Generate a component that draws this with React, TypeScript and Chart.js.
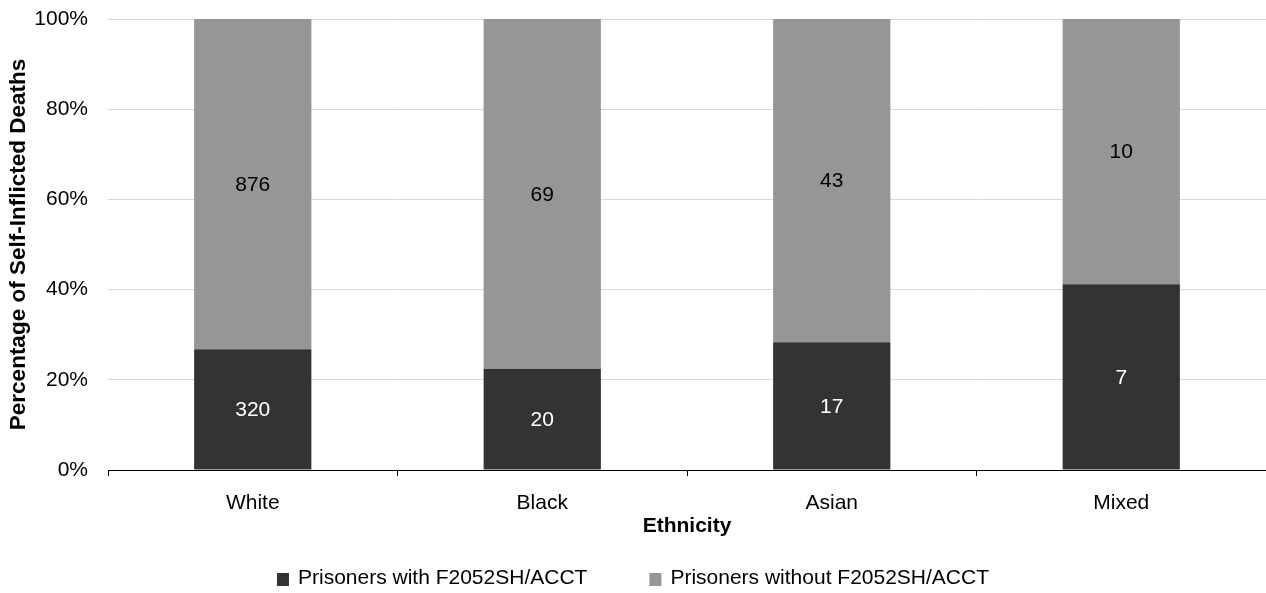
import React, { useEffect, useRef } from "react";
import { Chart, registerables } from "chart.js";

Chart.register(...registerables);

const categories = ["White", "Black", "Asian", "Mixed"];
const withCounts = [320, 20, 17, 7];
const withoutCounts = [876, 69, 43, 10];
const seriesLabels = ["Prisoners with F2052SH/ACCT", "Prisoners without F2052SH/ACCT"];
const seriesColors = ["#333333", "#969696"];
const valueLabelColors = ["#ffffff", "#000000"];
const yTickStep = 20;
const yTitle = "Percentage of Self-Inflicted Deaths";
const xTitle = "Ethnicity";

const FONT = '"Liberation Sans", Arial, Helvetica, sans-serif';
const FS = 21;

const totals = categories.map((_, i) => withCounts[i] + withoutCounts[i]);
const toPct = (arr: number[]) => arr.map((v, i) => (v / totals[i]) * 100);

const valueLabelPlugin = {
  id: "valueLabels",
  afterDatasetsDraw(chart: any) {
    const ctx = chart.ctx;
    ctx.save();
    ctx.font = `${FS}px ${FONT}`;
    ctx.textAlign = "center";
    ctx.textBaseline = "middle";
    chart.data.datasets.forEach((ds: any, di: number) => {
      const meta = chart.getDatasetMeta(di);
      if (meta.hidden) return;
      meta.data.forEach((el: any, i: number) => {
        const p = el.getProps(["x", "y", "base"], true);
        ctx.fillStyle = ds.valueLabelColor;
        ctx.fillText(String(ds.counts[i]), p.x, (p.y + p.base) / 2 + 1);
      });
    });
    ctx.restore();
  },
};

const legendPlugin = {
  id: "customLegend",
  afterDraw(chart: any) {
    const ctx = chart.ctx;
    ctx.save();
    ctx.font = `${FS}px ${FONT}`;
    const boxW = 12;
    const boxH = 13;
    const gap = 9;
    const itemGap = 62;
    const items = chart.data.datasets.map((ds: any) => ({
      text: ds.label,
      color: ds.backgroundColor,
      w: boxW + gap + ctx.measureText(ds.label).width,
    }));
    const total = items.reduce((s: number, it: any) => s + it.w, 0) + itemGap * (items.length - 1);
    let x = (chart.width - total) / 2;
    const baseline = 584;
    items.forEach((it: any) => {
      ctx.fillStyle = it.color;
      ctx.fillRect(x, 573, boxW, boxH);
      ctx.fillStyle = "#000000";
      ctx.textAlign = "left";
      ctx.textBaseline = "alphabetic";
      ctx.fillText(it.text, x + boxW + gap, baseline);
      x += it.w + itemGap;
    });
    ctx.restore();
  },
};

export default function App() {
  const canvasRef = useRef<HTMLCanvasElement | null>(null);

  useEffect(() => {
    if (!canvasRef.current) return;
    const chart = new Chart(canvasRef.current, {
      type: "bar",
      data: {
        labels: categories,
        datasets: [
          {
            label: seriesLabels[0],
            data: toPct(withCounts),
            counts: withCounts,
            valueLabelColor: valueLabelColors[0],
            backgroundColor: seriesColors[0],
            borderWidth: 0,
            barPercentage: 0.405,
            categoryPercentage: 1,
          } as any,
          {
            label: seriesLabels[1],
            data: toPct(withoutCounts),
            counts: withoutCounts,
            valueLabelColor: valueLabelColors[1],
            backgroundColor: seriesColors[1],
            borderWidth: 0,
            barPercentage: 0.405,
            categoryPercentage: 1,
          } as any,
        ],
      },
      options: {
        animation: false,
        responsive: true,
        maintainAspectRatio: false,
        layout: { autoPadding: false, padding: { top: 19, right: 0, bottom: 50, left: 0 } },
        plugins: {
          legend: { display: false },
          tooltip: { enabled: false },
        },
        scales: {
          x: {
            stacked: true,
            afterFit: (s: any) => {
              s.height = 73;
              s.paddingLeft = 0;
              s.paddingRight = 0;
            },
            grid: {
              offset: true,
              drawOnChartArea: false,
              drawTicks: true,
              tickLength: 6,
              color: "#000000",
            },
            border: { display: true, color: "#000000", width: 1 },
            ticks: {
              color: "#000000",
              font: { size: FS, family: FONT },
              padding: 15,
            },
            title: {
              display: true,
              text: xTitle,
              color: "#000000",
              font: { size: FS, family: FONT, weight: "bold" },
              padding: { top: 0, bottom: 4 },
            },
          },
          y: {
            stacked: true,
            min: 0,
            max: 100,
            afterFit: (s: any) => {
              s.width = 108;
              s.paddingTop = 0;
              s.paddingBottom = 0;
            },
            grid: { color: "#d9d9d9", drawTicks: false, lineWidth: 1 },
            border: { display: false },
            ticks: {
              stepSize: yTickStep,
              color: "#000000",
              font: { size: FS, family: FONT },
              padding: 20,
              callback: (v: any) => `${v}%`,
            },
            title: {
              display: true,
              text: yTitle,
              color: "#000000",
              font: { size: 22.5, family: FONT, weight: "bold" },
              padding: { top: 5, bottom: 0 },
            },
          },
        },
      },
      plugins: [valueLabelPlugin, legendPlugin],
    });
    return () => chart.destroy();
  }, []);

  return (
    <div style={{ position: "absolute", left: 0, top: 0, width: 1266, height: 593 }}>
      <canvas ref={canvasRef} />
    </div>
  );
}
